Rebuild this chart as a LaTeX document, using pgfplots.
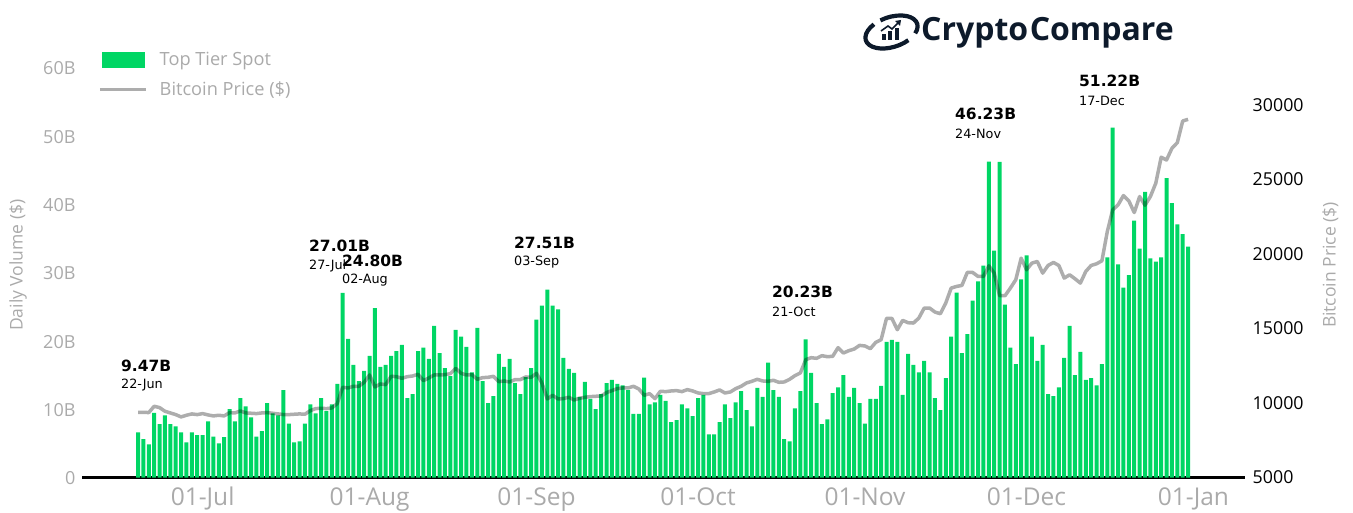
\documentclass[border=0pt]{standalone}
\usepackage{fontspec}
\usepackage{pgfplots}
\usepackage{pgfplotstable}
\pgfplotsset{compat=1.18}
\setmainfont{DejaVu Sans}
\newfontfamily\opensans{Open Sans}
\newfontfamily\opensansb[BoldFont={Open Sans Bold}]{Open Sans}
\definecolor{barc}{HTML}{00D664}
\definecolor{lab}{HTML}{AAAAAA}
\definecolor{logoc}{HTML}{0D1A2B}
\pgfplotstableread{
i vol price
0 6.6 9379
1 5.6 9379
2 4.85 9356
3 9.47 9781
4 7.8 9691
5 9.1 9446
6 7.8 9334
7 7.5 9222
8 6.6 9066
9 5.15 9178
10 6.6 9267
11 6.2 9222
12 6.2 9289
13 8.2 9200
14 6.0 9133
15 5.0 9178
16 5.9 9133
17 10.0 9356
18 8.2 9334
19 11.6 9468
20 10.4 9334
21 8.8 9312
22 6.0 9289
23 6.8 9334
24 10.9 9356
25 9.4 9312
26 9.1 9267
27 12.8 9222
28 7.9 9222
29 5.15 9245
30 5.3 9267
31 7.9 9245
32 10.7 9490
33 9.4 9624
34 11.6 9647
35 9.7 9624
36 10.7 9669
37 13.7 9960
38 27.01 11054
39 20.3 11009
40 16.5 11121
41 14.1 11121
42 15.6 11389
43 17.8 11881
44 24.8 11077
45 16.2 11277
46 16.5 11233
47 17.8 11791
48 18.5 11769
49 19.4 11657
50 11.6 11769
51 12.2 11814
52 18.5 11925
53 19.0 11501
54 17.35 11680
55 22.2 11881
56 18.2 11881
57 16.0 11903
58 14.85 11970
59 21.6 12328
60 20.6 11992
61 19.1 11881
62 15.4 11903
63 21.9 11590
64 14.1 11702
65 10.9 11724
66 11.9 11791
67 18.1 11434
68 16.2 11479
69 17.35 11412
70 13.8 11568
71 12.2 11568
72 14.7 11747
73 16.0 11724
74 23.1 11992
75 25.15 11345
76 27.51 10272
77 25.15 10518
78 24.6 10272
79 17.5 10294
80 15.9 10384
81 15.3 10205
82 11.8 10317
83 14.0 10384
84 11.5 10429
85 10.0 10451
86 12.2 10473
87 13.8 10697
88 14.3 10831
89 13.7 10965
90 13.5 11009
91 12.8 11009
92 9.3 11121
93 9.3 10942
94 14.6 10518
95 10.7 10630
96 11.0 10294
97 12.1 10786
98 11.2 10764
99 8.1 10808
100 8.4 10831
101 10.7 10764
102 10.1 10898
103 9.0 10808
104 11.6 10674
105 12.1 10630
106 6.3 10630
107 6.3 10741
108 8.1 10875
109 10.7 10674
110 8.7 10741
111 11.0 10965
112 12.65 11121
113 9.85 11345
114 7.5 11456
115 13.1 11590
116 11.8 11479
117 16.8 11456
118 12.8 11523
119 11.8 11389
120 5.6 11412
121 5.3 11590
122 10.1 11836
123 12.65 12015
124 20.23 12908
125 15.3 13042
126 10.9 12998
127 7.8 13176
128 8.5 13109
129 12.35 13132
130 13.2 13713
131 15.0 13355
132 11.8 13512
133 13.1 13623
134 10.9 13869
135 7.9 13825
136 11.5 13646
137 11.5 14070
138 13.4 14249
139 19.85 15679
140 20.15 15679
141 19.85 14919
142 12.1 15544
143 18.1 15388
144 16.5 15366
145 15.4 15701
146 17.05 16371
147 15.4 16371
148 11.6 16103
149 9.85 15991
150 14.55 16706
151 20.6 17711
152 27.05 17823
153 18.2 17890
154 21.0 18761
155 25.9 18761
156 28.7 18493
157 31.0 18493
158 46.23 19208
159 33.2 18717
160 46.2 17198
161 25.3 17198
162 19.0 17711
163 16.6 18270
164 29.0 19722
165 32.5 18940
166 20.6 19387
167 17.05 19499
168 19.4 18717
169 12.2 19231
170 11.9 19432
171 13.2 19231
172 17.5 18382
173 22.2 18605
174 15.0 18337
175 18.4 18047
176 14.3 18828
177 14.55 19231
178 13.5 19342
179 16.6 19543
180 32.2 21509
181 51.22 22961
182 31.2 23297
183 27.8 23922
184 29.6 23565
185 37.6 22783
186 33.5 23855
187 41.8 23274
188 32.05 23855
189 31.6 24749
190 32.2 26491
191 43.8 26312
192 40.15 27094
193 37.05 27474
194 35.6 28926
195 33.8 29038
}\datatable
\newcommand{\ann}[4]{%
  \node[anchor=west,inner sep=0pt,font=\fontsize{15.5}{18}\selectfont\bfseries] at ({#1*1pt},{(512-#2)*1pt}) {#3};
  \node[anchor=west,inner sep=0pt,font=\fontsize{12.8}{14}\selectfont] at ({#1*1pt},{(512-#2-19.5)*1pt}) {#4};
}
\begin{document}
\begin{tikzpicture}
\path[use as bounding box] (0pt,0pt) rectangle (1353pt,512pt);
\begin{axis}[
  at={(82pt,34.5pt)},anchor=south west,scale only axis,width=1163pt,height=410pt,
  xmin=-10.4,xmax=205.57,ymin=0,ymax=60,
  axis x line=bottom,axis y line=left,
  x axis line style={-,black,line width=3pt},
  y axis line style={draw=none},
  major tick length=0pt,
  xtick={12,43,74,104,135,165,196},
  xticklabels={01-Jul,01-Aug,01-Sep,01-Oct,01-Nov,01-Dec,01-Jan},
  xticklabel style={font=\fontsize{24.5}{28}\selectfont\opensans,text=lab,anchor=base,yshift=-28pt,inner sep=0pt},
  ytick={0,10,20,30,40,50,60},
  yticklabels={0,10B,20B,30B,40B,50B,60B},
  yticklabel style={font=\fontsize{18}{20}\selectfont\opensans,text=lab,xshift=-3pt,yshift=-1pt},
  ylabel={Daily Volume (\$)},
  ylabel style={at={(axis description cs:-0.055,0.518)},anchor=center,font=\fontsize{17.5}{20}\selectfont\opensans,text=lab},
]
\addplot[ybar,bar width=4pt,fill=barc,draw=none] table[x=i,y=vol]{\datatable};
\end{axis}
\begin{axis}[
  at={(82pt,34.5pt)},anchor=south west,scale only axis,width=1163pt,height=410pt,
  xmin=-10.4,xmax=205.57,ymin=5000,ymax=32517,
  hide x axis,axis y line=right,
  scaled y ticks=false,
  y axis line style={draw=none},
  major tick length=0pt,
  ytick={5000,10000,15000,20000,25000,30000},
  yticklabels={5000,10000,15000,20000,25000,30000},
  yticklabel style={font=\fontsize{17.8}{20}\selectfont\opensans,text=black,anchor=west,inner sep=0pt,xshift=7.5pt},
  ylabel={Bitcoin Price (\$)},
  ylabel style={at={(axis description cs:1.0735,0.518)},anchor=center,font=\fontsize{17.5}{20}\selectfont\opensans,text=lab},
  legend style={at={(axis description cs:0.01376,1.0378)},anchor=north west,draw=none,fill=none,inner sep=0pt,
    font=\fontsize{18.2}{20}\selectfont\opensans,text=lab,row sep=14pt,nodes={inner sep=0pt}},
  legend cell align=left,
]
\addlegendimage{legend image code/.code={\fill[barc] (2pt,-7.5pt) rectangle (44pt,7.5pt); \path (58pt,0pt);}}
\addlegendentry{Top Tier Spot}
\addplot[black,opacity=0.32,line width=3.5pt,line join=round,mark=none,
  legend image code/.code={\draw[black,line width=3.5pt] (0pt,0pt)--(46pt,0pt); \path (58pt,0pt);}]
  table[x=i,y=price]{\datatable};
\addlegendentry{Bitcoin Price (\$)}
\end{axis}
\ann{121}{366}{9.47B}{22-Jun}
\ann{309}{246}{27.01B}{27-Jul}
\ann{342}{261}{24.80B}{02-Aug}
\ann{514}{243}{27.51B}{03-Sep}
\ann{772}{292}{20.23B}{21-Oct}
\ann{955}{114}{46.23B}{24-Nov}
\ann{1079}{81}{51.22B}{17-Dec}
% logo
\node[anchor=base west,inner sep=0pt,text=logoc,font=\fontsize{32}{36}\selectfont\opensansb\bfseries] at (921pt,471pt) {Crypto\kern1.5pt Compare};
\begin{scope}[shift={(891.5pt,480pt)},rotate=18,logoc]
\draw[line width=4.2pt] (-35:27pt and 15pt) arc[start angle=-35,end angle=105,x radius=27pt,y radius=15pt];
\draw[line width=4.2pt] (122:27pt and 15pt) arc[start angle=122,end angle=300,x radius=27pt,y radius=15pt];
\end{scope}
\begin{scope}[logoc]
\fill (882pt,472pt) rectangle (886pt,478pt);
\fill (888pt,472pt) rectangle (892pt,481pt);
\fill (895pt,472pt) rectangle (899pt,484pt);
\draw[line width=1.6pt] (881pt,481pt)--(888pt,486pt)--(892pt,483pt)--(899pt,490pt);
\fill (901pt,492pt)--(895pt,491pt)--(900pt,486pt)--cycle;
\end{scope}
\end{tikzpicture}
\end{document}
